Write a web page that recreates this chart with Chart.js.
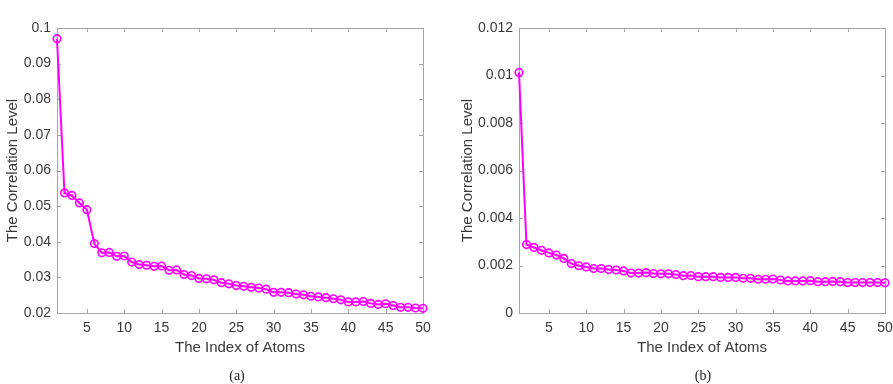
<!DOCTYPE html>
<html lang="en">
<head>
  <meta charset="UTF-8">
  <title>Correlation Level of Atoms</title>
  <script src="https://cdn.jsdelivr.net/npm/chart.js"></script>
  <style>
    body {
      margin: 0;
      background: #fff;
      width: 893px;
      height: 384px;
      position: relative;
      overflow: hidden;
    }
    .panel {
      position: absolute;
      top: 0;
      height: 384px;
    }
    .caption {
      position: absolute;
      top: 368px;
      font-family: "Liberation Serif", "DejaVu Serif", serif;
      font-size: 14px;
      color: #222;
      transform: translateX(-50%);
    }
  </style>
</head>
<body>
  <div class="panel" style="left: 0; width: 440px;"><canvas id="chartA"></canvas></div>
  <div class="panel" style="left: 455px; width: 446px;"><canvas id="chartB"></canvas></div>
  <div class="caption" style="left: 237px;">(a)</div>
  <div class="caption" style="left: 703px;">(b)</div>

  <script>
    // atom index (x)
    const atomIndex = [1, 2, 3, 4, 5, 6, 7, 8, 9, 10,
      11, 12, 13, 14, 15, 16, 17, 18, 19, 20,
      21, 22, 23, 24, 25, 26, 27, 28, 29, 30,
      31, 32, 33, 34, 35, 36, 37, 38, 39, 40,
      41, 42, 43, 44, 45, 46, 47, 48, 49, 50];

    // correlation level, panel (a)
    const correlationA = [0.0970, 0.0537, 0.0530, 0.0509, 0.0490, 0.0395, 0.0369, 0.0370, 0.0359, 0.0360,
      0.0343, 0.0336, 0.0334, 0.0331, 0.0332, 0.0320, 0.0321, 0.0308, 0.0305, 0.0297,
      0.0296, 0.0293, 0.0285, 0.0282, 0.0277, 0.0275, 0.0272, 0.0270, 0.0267, 0.0258,
      0.0258, 0.0257, 0.0253, 0.0251, 0.0247, 0.0245, 0.0243, 0.0240, 0.0237, 0.0231,
      0.0231, 0.0232, 0.0227, 0.0224, 0.0226, 0.0221, 0.0216, 0.0216, 0.0214, 0.0213];

    // correlation level, panel (b)
    const correlationB = [0.01013, 0.00288, 0.00276, 0.00264, 0.00253, 0.00244, 0.00230, 0.00208, 0.00199, 0.00194,
      0.00187, 0.00187, 0.00183, 0.00181, 0.00177, 0.00168, 0.00168, 0.00170, 0.00166, 0.00165,
      0.00165, 0.00162, 0.00157, 0.00158, 0.00153, 0.00153, 0.00153, 0.00150, 0.00150, 0.00150,
      0.00146, 0.00146, 0.00142, 0.00142, 0.00143, 0.00139, 0.00135, 0.00135, 0.00135, 0.00136,
      0.00132, 0.00132, 0.00133, 0.00132, 0.00128, 0.00128, 0.00128, 0.00128, 0.00128, 0.00127];

    // tick values
    const xTicks = [5, 10, 15, 20, 25, 30, 35, 40, 45, 50];
    const yTicksA = [0.02, 0.03, 0.04, 0.05, 0.06, 0.07, 0.08, 0.09, 0.1];
    const yTicksB = [0, 0.002, 0.004, 0.006, 0.008, 0.01, 0.012];

    const xTitle = "The Index of Atoms";
    const yTitle = "The Correlation Level";

    const tickColor = "#3a3a3a";
    const boxColor = "#a6a6a6";

    // MATLAB-like box with inward tick marks on all four sides
    const boxPlugin = {
      id: "box",
      beforeDatasetsDraw(chart) {
        const ctx = chart.ctx;
        const a = chart.chartArea;
        const xs = chart.scales.x;
        const ys = chart.scales.y;
        const len = 4;
        ctx.save();
        ctx.strokeStyle = boxColor;
        ctx.lineWidth = 1;
        ctx.strokeRect(a.left + 0.5, a.top + 0.5, a.right - a.left, a.bottom - a.top);
        ctx.beginPath();
        xs.ticks.forEach(t => {
          const px = Math.round(xs.getPixelForValue(t.value)) + 0.5;
          ctx.moveTo(px, a.bottom);
          ctx.lineTo(px, a.bottom - len);
          ctx.moveTo(px, a.top);
          ctx.lineTo(px, a.top + len);
        });
        ys.ticks.forEach(t => {
          const py = Math.round(ys.getPixelForValue(t.value)) + 0.5;
          ctx.moveTo(a.left, py);
          ctx.lineTo(a.left + len, py);
          ctx.moveTo(a.right, py);
          ctx.lineTo(a.right - len, py);
        });
        ctx.stroke();
        ctx.restore();
      }
    };

    function makeChart(canvasId, values, yTicks, yMin, yMax, yWidth, rightPad) {
      const ctx = document.getElementById(canvasId).getContext("2d");
      return new Chart(ctx, {
        type: "line",
        data: {
          datasets: [{
            data: atomIndex.map((x, i) => ({ x: x, y: values[i] })),
            borderColor: "#ff00ff",
            backgroundColor: "rgba(255,0,255,0)",
            borderWidth: 2,
            pointRadius: 3.8,
            pointBorderWidth: 1.6,
            pointBorderColor: "#ff00ff",
            pointBackgroundColor: "rgba(255,0,255,0.08)",
            tension: 0,
            clip: false
          }]
        },
        options: {
          responsive: true,
          maintainAspectRatio: false,
          animation: false,
          layout: { padding: { top: 28, right: rightPad, left: 0, bottom: 0 } },
          plugins: {
            legend: { display: false },
            tooltip: { enabled: false }
          },
          scales: {
            x: {
              type: "linear",
              min: 1,
              max: 50,
              afterBuildTicks: s => { s.ticks = xTicks.map(v => ({ value: v })); },
              afterFit: s => { s.height = 71; },
              grid: { display: false, drawTicks: false },
              border: { display: false },
              ticks: {
                padding: 7,
                maxRotation: 0,
                color: tickColor,
                font: { family: "Liberation Sans, Arial", size: 14 }
              },
              title: {
                display: true,
                text: xTitle,
                color: tickColor,
                padding: { top: 0, bottom: 27 },
                font: { family: "Liberation Sans, Arial", size: 15 }
              }
            },
            y: {
              min: yMin,
              max: yMax,
              afterBuildTicks: s => { s.ticks = yTicks.map(v => ({ value: v })); },
              afterFit: s => { s.width = yWidth; },
              grid: { display: false, drawTicks: false },
              border: { display: false },
              ticks: {
                padding: 6,
                color: tickColor,
                font: { family: "Liberation Sans, Arial", size: 14 },
                callback: v => String(+v.toFixed(4))
              },
              title: {
                display: true,
                text: yTitle,
                color: tickColor,
                padding: { top: 4, bottom: 0 },
                font: { family: "Liberation Sans, Arial", size: 15 }
              }
            }
          }
        },
        plugins: [boxPlugin]
      });
    }

    makeChart("chartA", correlationA, yTicksA, 0.02, 0.1, 57, 17);
    makeChart("chartB", correlationB, yTicksB, 0, 0.012, 64, 16);
  </script>
</body>
</html>
